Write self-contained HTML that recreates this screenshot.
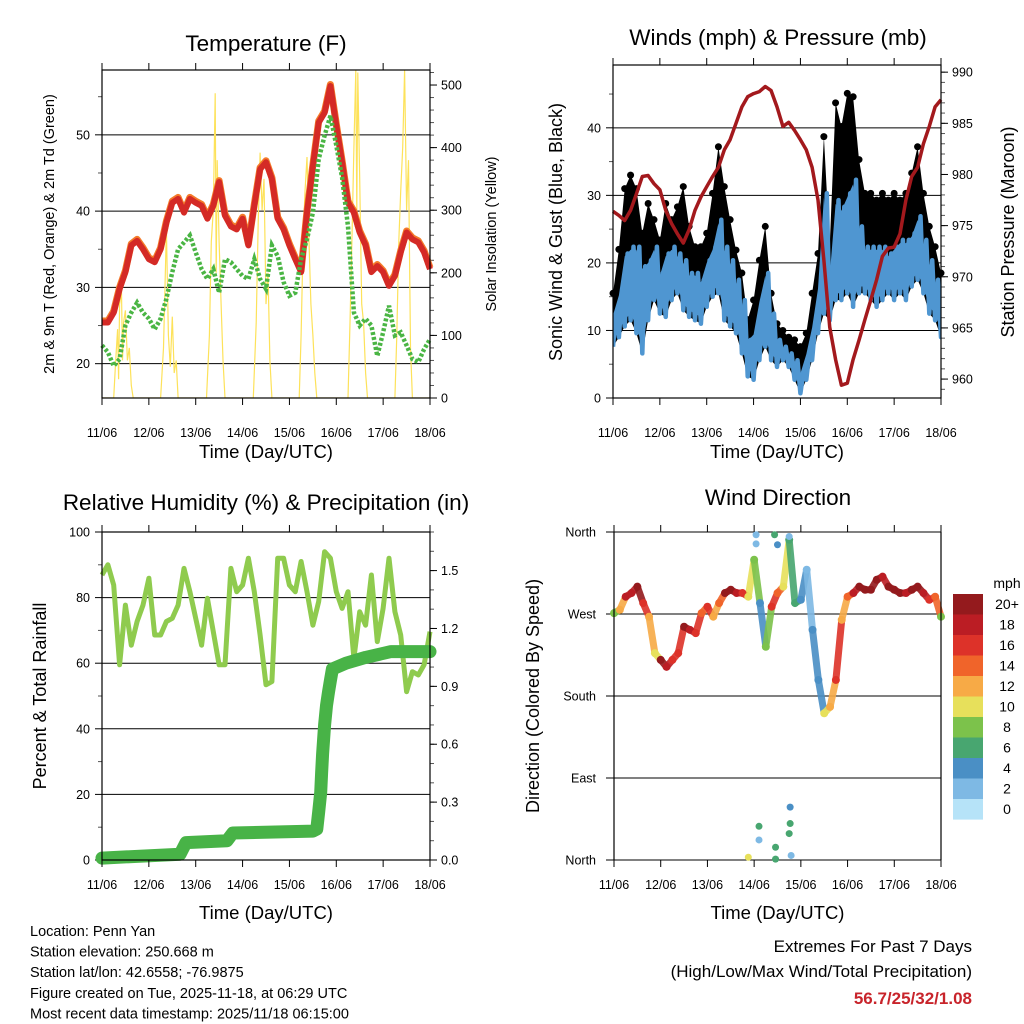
<!DOCTYPE html>
<html><head><meta charset="utf-8"><title>Penn Yan station</title>
<style>
html,body{margin:0;padding:0;background:#fff;}
svg{display:block;font-family:"Liberation Sans",Arial,sans-serif;}
</style></head>
<body>
<svg id="root" width="1024" height="1024" viewBox="0 0 1024 1024" xmlns="http://www.w3.org/2000/svg">
<rect x="0" y="0" width="1024" height="1024" fill="#fff"/>
</svg>
<script>
// ---------- data ----------
const hours = [0,3,6,9,12,15,18,21,24,27,30,33,36,39,42,45,48,51,54,57,60,63,66,69,72,75,78,81,84,87,90,93,96,99,102,105,108,111,114,117,120,123,126,129,132,135,138,141,144,147,150,153,156,159,162,165,168];
const dayLabels = ["11/06","12/06","13/06","14/06","15/06","16/06","17/06","18/06"];
const tempF = [25.4,25.4,26.7,29.8,32,35.5,36.1,35,33.7,33.3,35,38.5,41.1,41.6,39.8,41.6,41.1,40.7,39,40.7,43.8,39.4,38,37.6,39,35.5,40.7,45.5,46.4,44.2,39,37.6,35.5,33.7,32,39.8,45.9,51.6,52.9,56.4,51.2,46.4,41.1,39.8,37.2,35.5,32,32.8,32,30.2,31.5,34.6,37.2,36.3,35.9,34.6,32.4];
const dewF = [22.4,21.5,19.7,20.6,25,26.7,28,26.7,25.9,24.5,25.9,28.5,32,35,35.9,36.8,34.6,32.4,31.1,32.4,29.3,33.7,33.3,32.4,31.5,31.1,33.7,31.1,29.8,35.5,34.1,30.7,28.9,29.3,33.7,36.3,39.8,46.8,49.9,52.5,48.6,44.4,38,26.7,25,25.9,25,21,24.1,27.6,23.7,24.1,22.4,20.6,20.2,21.9,23.2];
const solarT = [0,6,7,8,8.5,9,10,10.5,11,12,13,14,15,16,30,31.5,33,34,35,36,37,38,39,53.5,55,56,57,58,58.5,59,60,61,62,63,77.5,79,80,81,82,83,84,85,86,87,101,102,103,104,105,106,107,108,109,110,126,127,128,129,130,130.5,131,132,133,134,135,136,150,151,152,153,154,155,156,157,158,159,168];
const solarV = [0,0,60,110,30,150,170,60,120,140,60,80,20,0,0,80,270,100,50,130,40,60,0,0,100,250,300,487,200,380,250,150,60,0,0,120,280,392,300,350,150,200,60,0,0,100,250,330,385,250,150,100,40,0,0,120,250,400,524,300,520,350,150,120,40,0,0,100,250,330,400,524,300,380,80,0,0];
const pressMb = [976.4,976,975.5,976.5,978.1,979.8,979.9,979.1,978.5,976.5,975.2,974.2,973.3,974.6,976.5,977.8,978.8,979.8,980.7,982.4,983.4,985,986.6,987.6,987.9,988.1,988.6,988.2,986.6,984.7,985.1,984.3,983.4,982.4,980.7,977.5,971.6,965.1,961.9,959.4,959.6,961.9,963.8,965.8,967.7,969.7,972,972.8,972.9,974.2,977.5,979.8,980.7,983,984.7,986.6,987.3];
const windLo = [7.6,9,10.6,11.5,9.6,6.6,11.5,14.5,12.5,12,14.5,15.5,13,12,11.5,11,13.5,15,15.5,11.5,10.6,9.6,6.6,3.2,2.7,5.6,7.6,5.6,4.6,5.6,4.6,2.7,0.7,2.7,5.6,9.6,12.5,11.5,14.5,14.5,15.5,13.5,15.5,15.5,14.5,13.5,14.5,15.5,14.5,15.5,14.5,16.5,17.5,15.5,12.5,11.5,9];
const windHi = [12.5,15.5,21.4,22.4,22.4,19.5,20.4,22.4,18.5,21.4,22.4,21.4,20.4,18.5,18.5,17.5,20.4,22.4,26.4,22.4,20.4,17.5,14.5,8.6,9.6,14.5,18.5,12.5,8.6,7.6,6.6,5.6,3.7,6.6,10.6,16.5,30.3,18.5,29.3,28.3,30.3,32.3,25.4,22.4,22.4,22.4,22.4,21.4,22.4,23.4,23.4,24.4,26.9,23.4,20.4,17.5,15.5];
const gustMph = [15.5,22,31,33,31,24.4,28.8,26.4,23.4,28.8,26.4,28.3,31.3,25.4,22.4,22.4,24.4,30.3,37.2,31.3,26.4,21.9,18.5,11.6,14.5,20.4,25.4,15.5,11,10,9,8.6,7.6,9.6,15.5,21.4,38.7,22.4,43.7,40.2,45.1,44.6,35.3,30.3,30.3,29.3,30.3,29.3,30.3,29.3,30.3,33.3,37.2,30.3,25.4,22.4,18.5];
const rhPct = [86.9,90,83.8,59.5,77.7,65.5,72.7,77.7,85.9,68.6,68.6,72.7,73.7,77.7,88.9,81.8,73.7,65.5,79.8,69.6,59.5,59.5,88.9,81.8,83.8,92,81.8,68.6,53.4,54.4,92,92,83.8,81.8,91,81.8,71.6,78.8,94,92,81.8,76.7,81.8,61.5,75.7,71.6,86.9,66.6,76.7,92,75.7,68.6,51.3,57.4,56.4,59.5,69.6];
const precipT = [0,40,43,64,67,108,110,111,112,112.5,113,114,115,116,117,118,125,135,148,168];
const precipIn = [0.01,0.03,0.09,0.10,0.14,0.15,0.16,0.25,0.35,0.45,0.55,0.70,0.80,0.87,0.93,0.99,1.02,1.05,1.08,1.08];
const dirDeg = [270.9,274.6,289,293,300,282,267,227,219.6,212,219.6,227,256,252.6,249,271,278,267,282,293,296.6,293,293,289,329.6,282,234,278,293,300,351.6,282,285.6,318.6,252.6,197.6,161,168,197.6,263.6,289,293,300,296.6,296.6,307.6,311,300,296.6,293,293,296.6,300,293,285.6,289,267];
const dirSpd = [8,12,18,18,20,16,12,10,20,18,16,16,20,18,16,14,16,12,14,20,20,18,16,10,8,4,8,16,14,10,6,6,4,2,4,4,10,12,16,12,14,18,20,20,20,20,18,20,20,20,18,20,20,18,16,14,8];
const extraT = [69,73,73,74.5,74.5,82.5,83,83,84,90,90,90.5,90.5,91];
const extraDir = [3,357,347,37,22,357,14,1,346,355,29,58,40,5];
const extraSpd = [10,2,2,6,2,6,6,6,4,2,6,4,6,2];
const speedBins = ["20+","18","16","14","12","10","8","6","4","2","0"];
const speedColors = ["#941a1d","#bb1d24","#dd3229","#f0642a","#f7aa46","#e7e05b","#7cc24b","#48a670","#4a8fc5","#7eb9e4","#b6e3f8"];

// ---------- helpers ----------
const NS = "http://www.w3.org/2000/svg";
const root = document.getElementById("root");
function mk(tag, attrs, parent){
  const e = document.createElementNS(NS, tag);
  for (const k in attrs) e.setAttribute(k, attrs[k]);
  (parent||root).appendChild(e);
  return e;
}
function txt(x,y,s,size,opts,parent){
  const e = mk("text",Object.assign({x:x,y:y,"font-size":size,fill:"#000"},opts||{}),parent);
  e.textContent = s;
  return e;
}
function lin(d0,d1,p0,p1){ return v => p0 + (v-d0)/(d1-d0)*(p1-p0); }
function speedColor(s){ let i = 10 - Math.min(10, Math.floor(s/2)); return speedColors[i]; }

function makePanel(name, x0,x1,y0,y1){
  const g = mk("g",{});
  
  
  return {g:g, x0:x0,x1:x1,y0:y0,y1:y1, sx: lin(0,168,x0,x1)};
}
function xAxis(P, labelY, titleY){
  for (let d=0; d<=7; d++){
    const x = P.sx(d*24);
    mk("line",{x1:x,y1:P.y1,x2:x,y2:P.y1+7,stroke:"#000","stroke-width":1},P.g);
    mk("line",{x1:x,y1:P.y0,x2:x,y2:P.y0-7,stroke:"#000","stroke-width":1},P.g);
    const t = txt(x,labelY,dayLabels[d],12.5,{"text-anchor":"middle"},P.g);
    
    
  }
  const tt = txt((P.x0+P.x1)/2,titleY,"Time (Day/UTC)",18.5,{"text-anchor":"middle"},P.g);
  
  
}
function frame(P){
  const r = mk("rect",{x:P.x0,y:P.y0,width:P.x1-P.x0,height:P.y1-P.y0,fill:"none",stroke:"#000","stroke-width":1.2},P.g);
  
  
}
function leftAxis(P, sy, ticks, labels, minors, grid){
  minors.forEach(v=>{ const y=sy(v); mk("line",{x1:P.x0,y1:y,x2:P.x0-4,y2:y,stroke:"#555","stroke-width":1},P.g); });
  ticks.forEach((v,i)=>{
    const y=sy(v);
    mk("line",{x1:P.x0,y1:y,x2:P.x0-7,y2:y,stroke:"#000","stroke-width":1},P.g);
    if (grid) mk("line",{x1:P.x0,y1:y,x2:P.x1,y2:y,stroke:"#000","stroke-width":1},P.g);
    const t = txt(P.x0-12,y+4.5,labels[i],12.5,{"text-anchor":"end"},P.g);
    
    
  });
}
function rightAxis(P, sy, ticks, labels, minors){
  minors.forEach(v=>{ const y=sy(v); mk("line",{x1:P.x1,y1:y,x2:P.x1+4,y2:y,stroke:"#555","stroke-width":1},P.g); });
  ticks.forEach((v,i)=>{
    const y=sy(v);
    mk("line",{x1:P.x1,y1:y,x2:P.x1+7,y2:y,stroke:"#000","stroke-width":1},P.g);
    const t = txt(P.x1+11,y+4.5,labels[i],12.5,{"text-anchor":"start"},P.g);
    
    
  });
}
function vTitle(P,x,y,s,size,name){
  const t = txt(0,0,s,size,{"text-anchor":"middle",transform:"translate("+x+","+y+") rotate(-90)"},P.g);
  
  
}
function title(P,x,y,s,name){
  const t = txt(x,y,s,22.5,{"text-anchor":"middle"},P.g);
  
  
}
function ptsStr(xs,ys,sx,sy){ return xs.map((h,i)=>sx(h).toFixed(1)+","+sy(ys[i]).toFixed(1)).join(" "); }
function range(a,b,s){ const r=[]; for(let v=a; v<=b+1e-9; v+=s) r.push(+v.toFixed(4)); return r; }

// ---------- Panel 1: Temperature ----------
(function(){
  const P = makePanel("temperature-panel",102,430,70,398);
  const sy = lin(15.5,58.5,398,70), sr = lin(0,524,398,70);
  leftAxis(P, sy, [20,30,40,50], ["20","30","40","50"], [25,35,45,55], true);
  rightAxis(P, sr, [0,100,200,300,400,500], ["0","100","200","300","400","500"], range(20,520,20));
  const clip = mk("clipPath",{id:"c1"},P.g); mk("rect",{x:P.x0,y:P.y0,width:P.x1-P.x0,height:P.y1-P.y0},clip);
  const solar = mk("polyline",{points:ptsStr(solarT,solarV,P.sx,sr),fill:"none",stroke:"#fde25a","stroke-width":1.2,"clip-path":"url(#c1)"},P.g);
  
  
  const t9 = mk("polyline",{points:ptsStr(hours,tempF,P.sx,sy),fill:"none",stroke:"#f47b2a","stroke-width":7,"stroke-linejoin":"round",transform:"translate(0,-1.5)"},P.g);
  
  
  const t2 = mk("polyline",{points:ptsStr(hours,tempF,P.sx,sy),fill:"none",stroke:"#d42a26","stroke-width":6,"stroke-linejoin":"round"},P.g);
  
  
  const td = mk("polyline",{points:ptsStr(hours,dewF,P.sx,sy),fill:"none",stroke:"#4ab544","stroke-width":4.5,"stroke-dasharray":"3 2"},P.g);
  
  
  frame(P);
  xAxis(P,437,458);
  title(P,266,51,"Temperature (F)","temperature-title");
  vTitle(P,54,234,"2m & 9m T (Red, Orange) & 2m Td (Green)",14.5,"temperature-y-title");
  vTitle(P,496,234,"Solar Insolation (Yellow)",14.5,"solar-y-title");
})();

// ---------- Panel 2: Winds & Pressure ----------
(function(){
  const P = makePanel("winds-pressure-panel",613,941,65,398);
  const sy = lin(0,49.3,398,65), sp = lin(958.15,990.7,398,65);
  leftAxis(P, sy, [0,10,20,30,40], ["0","10","20","30","40"], [5,15,25,35,45], true);
  rightAxis(P, sp, [960,965,970,975,980,985,990], ["960","965","970","975","980","985","990"], range(959,990,1));
  const clip = mk("clipPath",{id:"c2"},P.g); mk("rect",{x:P.x0,y:P.y0,width:P.x1-P.x0,height:P.y1-P.y0},clip);
  let poly = hours.map((h,i)=>P.sx(h).toFixed(1)+","+sy(gustMph[i]).toFixed(1));
  for (let i=hours.length-1;i>=0;i--) poly.push(P.sx(hours[i]).toFixed(1)+","+sy(windLo[i]).toFixed(1));
  const gb = mk("polygon",{points:poly.join(" "),fill:"#000","clip-path":"url(#c2)"},P.g);
  
  
  hours.forEach((h,i)=>{
    const c = mk("circle",{cx:P.sx(h),cy:sy(gustMph[i]),r:3.5,fill:"#000"},P.g);
    
    
  });
  let zz = [];
  hours.forEach((h,i)=>{ zz.push(P.sx(h).toFixed(1)+","+sy(windLo[i]).toFixed(1)); zz.push((P.sx(h)+2.9).toFixed(1)+","+sy(windHi[i]).toFixed(1)); });
  const wb = mk("polyline",{points:zz.join(" "),fill:"none",stroke:"#4f96d1","stroke-width":4.5,"stroke-linejoin":"round","clip-path":"url(#c2)"},P.g);
  
  
  let poly2 = hours.map((h,i)=>P.sx(h).toFixed(1)+","+sy(windHi[i]*0.98).toFixed(1));
  for (let i=hours.length-1;i>=0;i--) poly2.push(P.sx(hours[i]).toFixed(1)+","+sy(windLo[i]+1).toFixed(1));
  const wf = mk("polygon",{points:poly2.join(" "),fill:"#4f96d1","clip-path":"url(#c2)"},P.g);
  
  
  const pl = mk("polyline",{points:ptsStr(hours,pressMb,P.sx,sp),fill:"none",stroke:"#a3191d","stroke-width":3.5,"stroke-linejoin":"round"},P.g);
  
  
  frame(P);
  xAxis(P,437,458);
  title(P,778,45,"Winds (mph) & Pressure (mb)","winds-title");
  vTitle(P,562,232,"Sonic Wind & Gust (Blue, Black)",18,"wind-y-title");
  vTitle(P,1014,232,"Station Pressure (Maroon)",18,"pressure-y-title");
})();

// ---------- Panel 3: RH & precip ----------
(function(){
  const P = makePanel("humidity-precip-panel",102,430,532,860);
  const sy = lin(0,100,860,532), sr = lin(0,1.70,860,532);
  leftAxis(P, sy, [0,20,40,60,80,100], ["0","20","40","60","80","100"], [10,30,50,70,90], true);
  rightAxis(P, sr, [0,0.3,0.6,0.9,1.2,1.5], ["0.0","0.3","0.6","0.9","1.2","1.5"], range(0.1,1.7,0.1));
  const rh = mk("polyline",{points:ptsStr(hours,rhPct,P.sx,sy),fill:"none",stroke:"#8fcb4e","stroke-width":5,"stroke-linejoin":"round"},P.g);
  
  
  const pr = mk("polyline",{points:ptsStr(precipT,precipIn,P.sx,sr),fill:"none",stroke:"#48b347","stroke-width":13,"stroke-linejoin":"round","stroke-linecap":"round"},P.g);
  
  
  frame(P);
  xAxis(P,889,919);
  title(P,266,510,"Relative Humidity (%) & Precipitation (in)","humidity-title");
  vTitle(P,46,696,"Percent & Total Rainfall",18,"humidity-y-title");
})();

// ---------- Panel 4: Wind direction ----------
(function(){
  const P = makePanel("wind-direction-panel",614,941,532,860);
  const sy = lin(0,360,860,532);
  const names = ["North","East","South","West","North"];
  [0,90,180,270,360].forEach((v,i)=>{
    const y = sy(v);
    mk("line",{x1:606,y1:y,x2:P.x1,y2:y,stroke:"#000","stroke-width":1},P.g);
    const t = txt(596,y+4.5,names[i],12.5,{"text-anchor":"end"},P.g);
    
    
  });
  for (let i=0;i<hours.length-1;i++){
    if (Math.abs(dirDeg[i+1]-dirDeg[i])>120) continue;
    const s = mk("line",{x1:P.sx(hours[i]),y1:sy(dirDeg[i]),x2:P.sx(hours[i+1]),y2:sy(dirDeg[i+1]),stroke:speedColor(dirSpd[i]),"stroke-width":7,"stroke-linecap":"round",opacity:0.9},P.g);
    
    
  }
  hours.forEach((h,i)=>{
    const c = mk("circle",{cx:P.sx(h),cy:sy(dirDeg[i]),r:4,fill:speedColor(dirSpd[i])},P.g);
    
    
  });
  extraT.forEach((h,i)=>{
    const c = mk("circle",{cx:P.sx(h),cy:sy(extraDir[i]),r:3.5,fill:speedColor(extraSpd[i])},P.g);
    
    
  });
  mk("line",{x1:P.x0,y1:P.y0,x2:P.x0,y2:P.y1,stroke:"#000","stroke-width":1.2},P.g);
  mk("line",{x1:P.x1,y1:P.y0,x2:P.x1,y2:P.y1,stroke:"#000","stroke-width":1.2},P.g);
  xAxis(P,889,919);
  title(P,778,505,"Wind Direction","wind-direction-title");
  vTitle(P,539,696,"Direction (Colored By Speed)",18,"direction-y-title");
  const cb = mk("g",{},P.g);
  
  
  const u = txt(1007,588,"mph",14,{"text-anchor":"middle"},cb);
  
  
  speedBins.forEach((lab,i)=>{
    const y0 = 594 + i*20.5;
    const r = mk("rect",{x:953,y:y0,width:30,height:20.6,fill:speedColors[i]},cb);
    
    
    const t = txt(1007,y0+15,lab,14,{"text-anchor":"middle"},cb);
    
    
  });
})();

// ---------- footer text ----------
const info = ["Location: Penn Yan","Station elevation: 250.668 m","Station lat/lon: 42.6558; -76.9875","Figure created on Tue, 2025-11-18, at 06:29 UTC","Most recent data timestamp: 2025/11/18 06:15:00"];
info.forEach((s,i)=>{
  const t = txt(30,936+i*20.6,s,14.5,{});
  
  
});
const e1 = txt(972,952,"Extremes For Past 7 Days",17,{"text-anchor":"end"});


const e2 = txt(972,977,"(High/Low/Max Wind/Total Precipitation)",17,{"text-anchor":"end"});


const e3 = txt(972,1004,"56.7/25/32/1.08",17,{"text-anchor":"end","font-weight":"bold",fill:"#c8242b"});


</script>
</body></html>
